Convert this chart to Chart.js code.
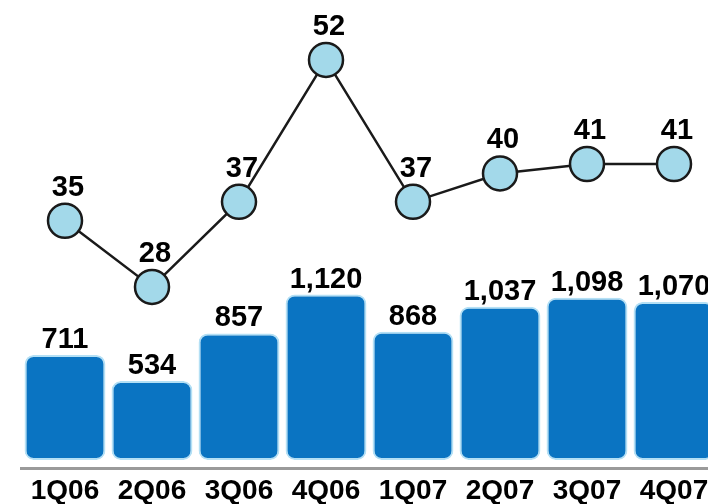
<!DOCTYPE html>
<html>
<head>
<meta charset="utf-8">
<script src="https://cdn.jsdelivr.net/npm/chart.js@4"></script>
<style>
  html, body { margin: 0; padding: 0; background: #fff; overflow: hidden; }
  #grafica { display: block; }
</style>
</head>
<body>
<canvas id="grafica" width="720" height="504"></canvas>
<script>
const trimestres = ['1Q06', '2Q06', '3Q06', '4Q06', '1Q07', '2Q07', '3Q07', '4Q07'];
const ventas = [711, 534, 857, 1120, 868, 1037, 1098, 1070];
const margen = [35, 28, 37, 52, 37, 40, 41, 41];

const familia = '"Liberation Sans", Arial, sans-serif';
const formato = new Intl.NumberFormat('en-US');

// etiquetas de valor encima de barras y puntos
const etiquetas = {
    id: 'etiquetas',
    afterDatasetsDraw(chart) {
        const ctx = chart.ctx;
        ctx.save();
        ctx.font = 'bold 29px ' + familia;
        ctx.fillStyle = '#000';
        ctx.textAlign = 'center';
        ctx.textBaseline = 'middle';
        chart.data.datasets.forEach((dataset, i) => {
            const meta = chart.getDatasetMeta(i);
            meta.data.forEach((el, j) => {
                const valor = dataset.data[j];
                if (dataset.type === 'bar') {
                    ctx.fillText(formato.format(valor), el.x, el.y - 15);
                } else {
                    ctx.fillText(valor, el.x + 3, el.y - 33);
                }
            });
        });
        ctx.restore();
    }
};

const ctx = document.getElementById('grafica').getContext('2d');
const myChart = new Chart(ctx, {
    data: {
        labels: trimestres,
        datasets: [{
            type: 'line',
            data: margen,
            yAxisID: 'yLinea',
            borderColor: '#1a1a1a',
            borderWidth: 2.5,
            pointRadius: 17,
            pointBorderWidth: 2.5,
            pointBorderColor: '#1a1a1a',
            pointBackgroundColor: '#a3d9ea',
            tension: 0,
            clip: false,
            order: 0
        }, {
            type: 'bar',
            data: ventas,
            yAxisID: 'yBarras',
            backgroundColor: '#0a74c2',
            borderColor: '#b4e0f5',
            borderWidth: 2,
            borderRadius: 9,
            borderSkipped: false,
            barPercentage: 0.93,
            categoryPercentage: 1,
            order: 1
        }]
    },
    options: {
        responsive: false,
        animation: false,
        layout: {
            autoPadding: false,
            padding: { left: 21.5, right: 2.5, top: 0, bottom: 0 }
        },
        plugins: {
            legend: { display: false },
            tooltip: { enabled: false }
        },
        scales: {
            x: {
                grid: { display: false },
                border: { display: true, color: '#9a9a9a', width: 3 },
                ticks: {
                    color: '#000',
                    font: { family: familia, size: 28, weight: 'bold' },
                    padding: -2,
                    maxRotation: 0,
                    autoSkip: false
                },
                afterFit(scale) {
                    scale.height = 36;
                }
            },
            yBarras: {
                display: false,
                min: -54.2,
                max: 3114
            },
            yLinea: {
                display: false,
                min: 8.86,
                max: 58.34
            }
        }
    },
    plugins: [etiquetas]
});
</script>
</body>
</html>
